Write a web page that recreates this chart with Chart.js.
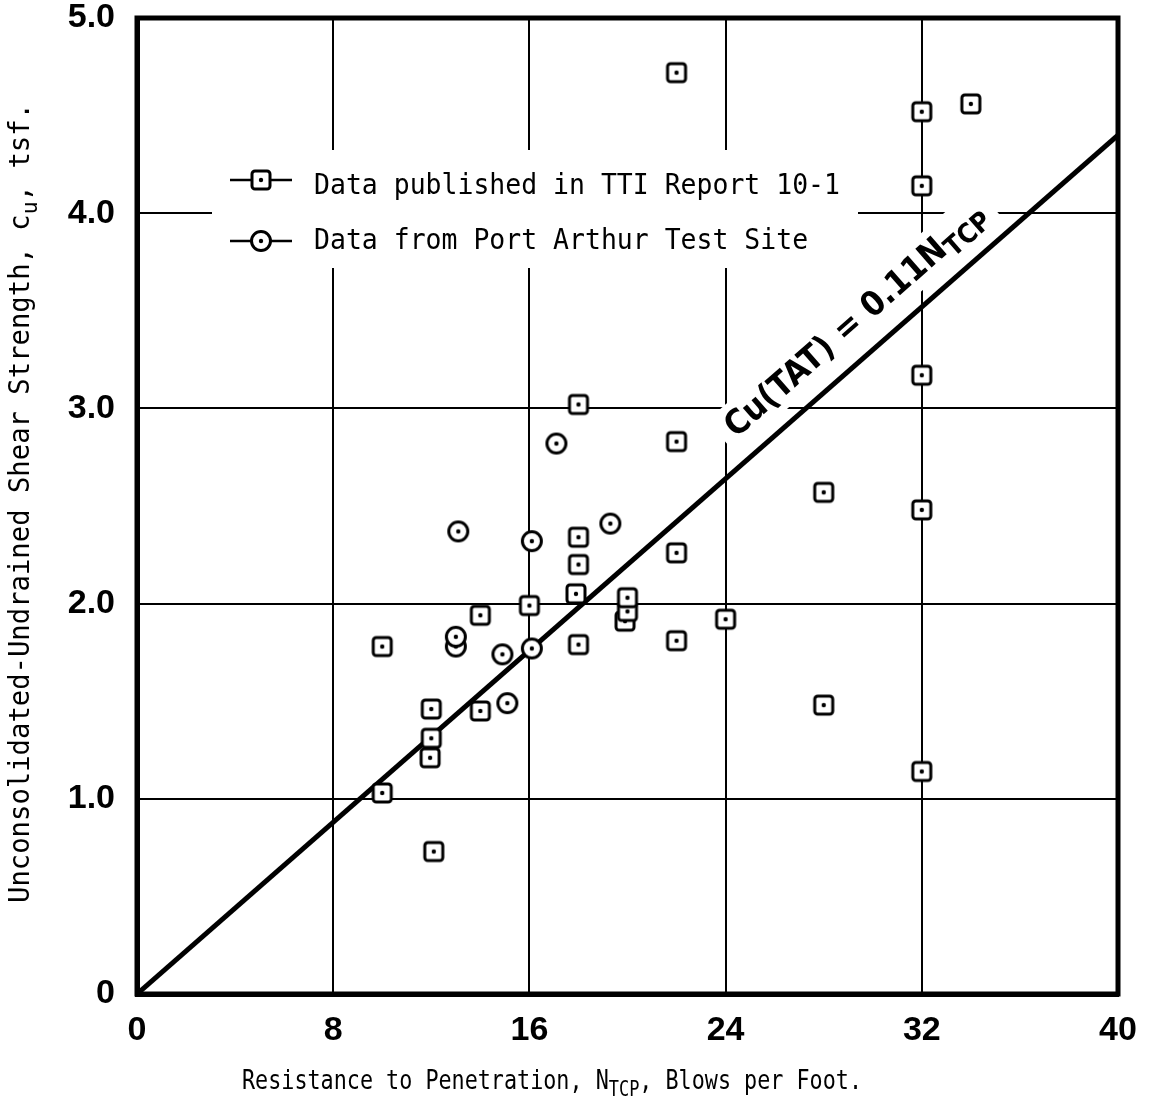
<!DOCTYPE html>
<html>
<head>
<meta charset="utf-8">
<script src="https://cdn.jsdelivr.net/npm/chart.js@4/dist/chart.umd.min.js"></script>
<style>
  html, body { margin: 0; padding: 0; background: #fff; }
</style>
</head>
<body>
<canvas id="chart" width="1149" height="1109"></canvas>
<script>
// TTI Report 10-1 data (N_TCP, blows/ft vs cu, tsf)
const ttiN  = [22, 32, 34, 32, 32, 32, 18, 22, 28, 18, 18, 17.9, 22, 16, 14, 19.9, 20, 20, 24, 22, 18, 10, 12, 14, 11.95, 12, 10, 12.1, 28, 32];
const ttiCu = [4.72, 4.52, 4.56, 4.14, 3.17, 2.48, 3.02, 2.83, 2.57, 2.34, 2.20, 2.05, 2.26, 1.99, 1.94, 1.91, 1.96, 2.03, 1.92, 1.81, 1.79, 1.78, 1.46, 1.45, 1.21, 1.31, 1.03, 0.73, 1.48, 1.14];

// Port Arthur test site
const paN  = [17.1, 13.1, 16.1, 19.3, 13.0, 13.0, 14.9, 16.1, 15.1];
const paCu = [2.82, 2.37, 2.32, 2.41, 1.78, 1.83, 1.74, 1.77, 1.49];

// cu(TAT) = 0.11 N_TCP
const lineN  = [0, 40];
const lineCu = [0, 4.4];

const xTicks = [0, 8, 16, 24, 32, 40];
const yTicks = [0, 1, 2, 3, 4, 5];

const legendLabels = ["Data published in TTI Report 10-1", "Data from Port Arthur Test Site"];

const MONO = '"DejaVu Sans Mono", "Liberation Mono", monospace';

function makeMarker(kind) {
  const c = document.createElement("canvas");
  c.width = 24; c.height = 24;
  const g = c.getContext("2d");
  g.fillStyle = "#fff";
  g.strokeStyle = "#000";
  g.lineWidth = 3;
  g.beginPath();
  if (kind === "square") g.roundRect(3, 3, 18, 18, 3);
  else g.arc(12, 12, 9.5, 0, Math.PI * 2);
  g.fill();
  g.stroke();
  g.beginPath();
  g.arc(12, 12, 2.2, 0, Math.PI * 2);
  g.fillStyle = "#000";
  g.fill();
  return c;
}
const squareMark = makeMarker("square");
const circleMark = makeMarker("circle");

const toPts = (xs, ys) => xs.map((x, i) => ({ x: x, y: ys[i] }));

// text with optional subscripts, squeezed to a width, centred on (0,0)
function drawParts(ctx, parts, font, subFont, width, align) {
  let total = 0;
  parts.forEach(p => {
    ctx.font = p.sub ? subFont : font;
    p.w = ctx.measureText(p.t).width;
    total += p.w;
  });
  const s = width ? width / total : 1;
  ctx.save();
  ctx.scale(s, 1);
  let x = align === "left" ? 0 : -total / 2;
  ctx.textAlign = "left";
  ctx.textBaseline = "middle";
  ctx.fillStyle = "#000";
  parts.forEach(p => {
    ctx.font = p.sub ? subFont : font;
    ctx.fillText(p.t, x, p.sub ? 9 : 0);
    x += p.w;
  });
  ctx.restore();
  return s;
}

function labelFrame(chart) {
  const xs = chart.scales.x, ys = chart.scales.y;
  const x0 = xs.getPixelForValue(lineN[0]), y0 = ys.getPixelForValue(lineCu[0]);
  const x1 = xs.getPixelForValue(lineN[1]), y1 = ys.getPixelForValue(lineCu[1]);
  const ang = Math.atan2(y1 - y0, x1 - x0);
  const t = 30.2 / lineN[1];
  return { x: x0 + (x1 - x0) * t, y: y0 + (y1 - y0) * t, ang: ang };
}

const decorPlugin = {
  id: "decor",
  beforeDatasetsDraw(chart) {
    const ctx = chart.ctx;
    ctx.save();
    ctx.fillStyle = "#fff";
    // legend block
    ctx.fillRect(212, 150, 646, 118);
    // label block along the line
    const f = labelFrame(chart);
    ctx.translate(f.x, f.y);
    ctx.rotate(f.ang);
    ctx.fillRect(-178, -56, 356, 44);
    ctx.restore();
  },
  afterDatasetsDraw(chart) {
    const ctx = chart.ctx;
    const a = chart.chartArea;

    // line label
    const f = labelFrame(chart);
    ctx.save();
    ctx.translate(f.x, f.y);
    ctx.rotate(f.ang);
    ctx.translate(0, -32);
    drawParts(ctx, [{ t: "Cu(TAT) = 0.11N" }, { t: "TCP", sub: true }],
      'bold 34px "DejaVu Sans"', 'bold 27px "DejaVu Sans"', 335);
    ctx.restore();

    // legend
    const rows = [{ y: 180, ty: 187, img: squareMark }, { y: 241, ty: 242, img: circleMark }];
    let sc = null;
    rows.forEach((r, i) => {
      ctx.save();
      ctx.strokeStyle = "#000";
      ctx.lineWidth = 2.5;
      ctx.beginPath();
      ctx.moveTo(230, r.y);
      ctx.lineTo(292, r.y);
      ctx.stroke();
      ctx.drawImage(r.img, 261 - 12, r.y - 12);
      ctx.translate(314, r.ty);
      ctx.font = "28px " + MONO;
      const natural = ctx.measureText(legendLabels[0]).width;
      if (sc === null) sc = 526 / natural;
      drawParts(ctx, [{ t: legendLabels[i] }], "28px " + MONO, "", ctx.measureText(legendLabels[i]).width * sc, "left");
      ctx.restore();
    });

    // frame
    ctx.save();
    ctx.strokeStyle = "#000";
    ctx.lineWidth = 5;
    ctx.strokeRect(a.left, a.top, a.right - a.left, a.bottom - a.top);
    ctx.restore();

    // x axis title
    ctx.save();
    ctx.translate(552, 1082);
    drawParts(ctx, [{ t: "Resistance to Penetration, N" }, { t: "TCP", sub: true }, { t: ", Blows per Foot." }],
      "27px " + MONO, "21px " + MONO, 620);
    ctx.restore();

    // y axis title
    ctx.save();
    ctx.translate(22, 503);
    ctx.rotate(-Math.PI / 2);
    drawParts(ctx, [{ t: "Unconsolidated-Undrained Shear Strength, c" }, { t: "u", sub: true }, { t: ", tsf." }],
      "28px " + MONO, "22px " + MONO, 800);
    ctx.restore();
  }
};

const tickFont = { family: '"Liberation Sans", Arial, sans-serif', weight: "bold", size: 34 };

new Chart(document.getElementById("chart").getContext("2d"), {
  type: "scatter",
  data: {
    datasets: [
      {
        label: "cu(TAT) = 0.11 N_TCP",
        type: "line",
        data: toPts(lineN, lineCu),
        borderColor: "#000",
        borderWidth: 5,
        pointRadius: 0,
        fill: false,
        order: 3
      },
      {
        label: legendLabels[0],
        data: toPts(ttiN, ttiCu),
        pointStyle: squareMark,
        pointRadius: 12,
        order: 2
      },
      {
        label: legendLabels[1],
        data: toPts(paN, paCu),
        pointStyle: circleMark,
        pointRadius: 12,
        order: 1
      }
    ]
  },
  options: {
    responsive: false,
    animation: false,
    layout: { padding: { top: 18, right: 31, left: 0, bottom: 0 } },
    plugins: {
      legend: { display: false },
      tooltip: { enabled: false }
    },
    scales: {
      x: {
        type: "linear",
        min: 0,
        max: 40,
        afterBuildTicks: s => { s.ticks = xTicks.map(v => ({ value: v })); },
        afterFit: s => { s.height = 115; s.paddingLeft = 0; s.paddingRight = 0; },
        ticks: { font: tickFont, color: "#000", padding: 16, maxRotation: 0, callback: v => String(v) },
        grid: { color: "#000", lineWidth: 2, drawTicks: false },
        border: { color: "#000", width: 5 }
      },
      y: {
        type: "linear",
        min: 0,
        max: 5,
        afterBuildTicks: s => { s.ticks = yTicks.map(v => ({ value: v })); },
        afterFit: s => { s.width = 137; s.paddingTop = 0; s.paddingBottom = 0; },
        ticks: { font: tickFont, color: "#000", padding: 22, callback: v => (v === 0 ? "0" : v.toFixed(1)) },
        grid: { color: "#000", lineWidth: 2, drawTicks: false },
        border: { color: "#000", width: 5 }
      }
    }
  },
  plugins: [decorPlugin]
});
</script>
</body>
</html>
